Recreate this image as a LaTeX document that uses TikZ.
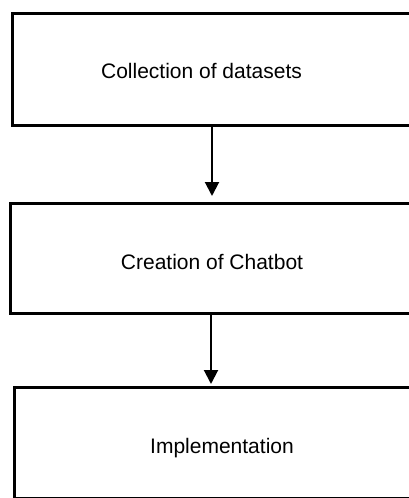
\documentclass[tikz,border=0pt]{standalone}
\usepackage{fontspec}
\setmainfont{Liberation Sans}
\usepackage{tikz}
\usetikzlibrary{arrows.meta, positioning, calc}

\begin{document}
\begin{tikzpicture}[
    x=1pt, y=-1pt,
    stagebox/.style={rectangle, draw=black, line width=3pt, fill=white,
                 minimum width=420pt, outer sep=0pt, anchor=north west},
    stagetext/.style={font=\fontsize{21}{25}\selectfont, anchor=base, inner sep=0pt},
    flowarrow/.style={-{Triangle[width=14pt, length=14pt]}, line width=2pt}
]
    \useasboundingbox (0,0) rectangle (409,498);
    \clip (0,0) rectangle (409,498);

    % boxes run past the right edge
    \node[stagebox, minimum height=112pt] (collect) at (12,13) {};
    \node[stagebox, minimum height=110.5pt] (create) at (10.5,203) {};
    \node[stagebox, minimum height=111pt] (implement) at (14,387.5) {};

    \node[stagetext] (collecttxt) at (201.5,78) {Collection of datasets};
    \node[stagetext] (createtxt) at (212,269) {Creation of Chatbot};
    \node[stagetext] (implementtxt) at (222,453) {Implementation};

    \draw[flowarrow, shorten >=7pt] (collect.south -| createtxt) -- (create.north -| createtxt);
    \draw[flowarrow, shorten >=3.5pt] ($(create.south -| createtxt)+(-1,0)$) -- ($(implement.north -| createtxt)+(-1,0)$);
\end{tikzpicture}
\end{document}
